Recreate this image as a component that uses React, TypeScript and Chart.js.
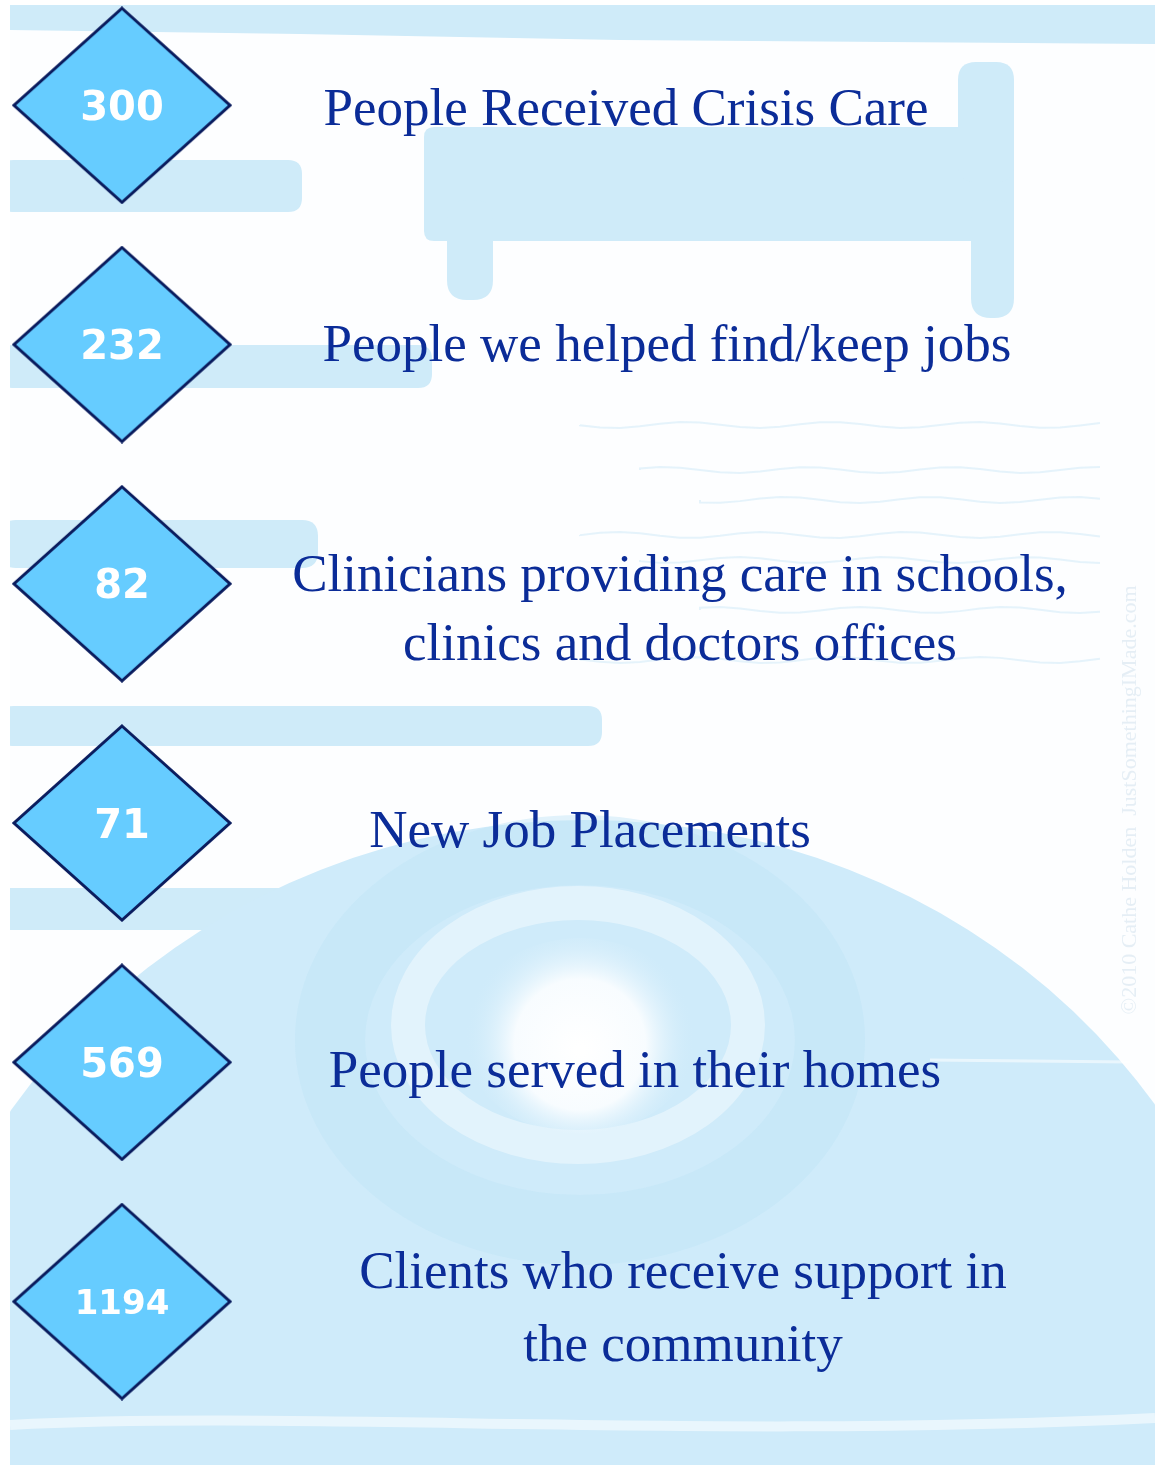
import { useEffect, useRef } from 'react';
import { Chart, registerables } from 'chart.js';

Chart.register(...registerables);

// ---- data ----
const values: number[] = [300, 232, 82, 71, 569, 1194];
const categories: string[][] = [
  ['People Received Crisis Care'],
  ['People we helped find/keep jobs'],
  ['Clinicians providing care in schools,', 'clinics and doctors offices'],
  ['New Job Placements'],
  ['People served in their homes'],
  ['Clients who receive support in', 'the community'],
];
const rowIndex: number[] = [0, 1, 2, 3, 4, 5];
const watermark = '\u00A92010 Cathe Holden  JustSomethingIMade.com';

// ---- layout / style (kept apart from the data) ----
const W = 1155;
const H = 1469;
const BADGE_X = 122;
const LABEL_CX = [626, 667, 680, 590, 635, 683];
const LABEL_DY = [[20], [16], [7, 76], [24], [25], [-14, 59]];
const TEXT_COLOR = '#0b2c98';
const BADGE_FILL = '#66ccff';
const BADGE_STROKE = '#0a1c5e';
const BG_BLUE = '#cfebf9';

function makeDiamond(): HTMLCanvasElement {
  const c = document.createElement('canvas');
  const w = 220;
  const h = 198;
  c.width = w;
  c.height = h;
  const g = c.getContext('2d')!;
  g.beginPath();
  g.moveTo(w / 2, 2);
  g.lineTo(w - 2, h / 2);
  g.lineTo(w / 2, h - 2);
  g.lineTo(2, h / 2);
  g.closePath();
  g.fillStyle = BADGE_FILL;
  g.fill();
  g.lineWidth = 3;
  g.lineJoin = 'miter';
  g.strokeStyle = BADGE_STROKE;
  g.stroke();
  return c;
}

function roundRect(ctx: CanvasRenderingContext2D, x: number, y: number, w: number, h: number, r: number) {
  ctx.beginPath();
  ctx.moveTo(x + r, y);
  ctx.lineTo(x + w - r, y);
  ctx.quadraticCurveTo(x + w, y, x + w, y + r);
  ctx.lineTo(x + w, y + h - r);
  ctx.quadraticCurveTo(x + w, y + h, x + w - r, y + h);
  ctx.lineTo(x + r, y + h);
  ctx.quadraticCurveTo(x, y + h, x, y + h - r);
  ctx.lineTo(x, y + r);
  ctx.quadraticCurveTo(x, y, x + r, y);
  ctx.closePath();
  ctx.fill();
}

function drawBackground(ctx: CanvasRenderingContext2D) {
  ctx.save();
  ctx.fillStyle = '#ffffff';
  ctx.fillRect(0, 0, W, H);
  ctx.beginPath();
  ctx.rect(10, 5, W - 10, 1460);
  ctx.clip();
  ctx.fillStyle = '#fdfeff';
  ctx.fillRect(10, 5, W - 10, 1460);

  ctx.fillStyle = BG_BLUE;
  // top band
  ctx.beginPath();
  ctx.moveTo(10, 5);
  ctx.lineTo(W, 5);
  ctx.lineTo(W, 44);
  ctx.lineTo(620, 40);
  ctx.lineTo(300, 34);
  ctx.lineTo(10, 30);
  ctx.closePath();
  ctx.fill();
  // left strips
  roundRect(ctx, 0, 160, 302, 52, 14);
  roundRect(ctx, 0, 345, 432, 43, 14);
  roundRect(ctx, 0, 520, 318, 48, 16);
  roundRect(ctx, 0, 706, 602, 40, 14);
  roundRect(ctx, 0, 888, 320, 42, 10);
  // hammer-like block
  roundRect(ctx, 424, 127, 590, 114, 10);
  roundRect(ctx, 958, 62, 56, 120, 18);
  roundRect(ctx, 447, 200, 46, 100, 20);
  roundRect(ctx, 971, 200, 43, 118, 20);

  // faint wavy lines in the upper white area
  ctx.strokeStyle = 'rgba(200,230,247,0.45)';
  ctx.lineWidth = 2;
  const waves = [425, 470, 500, 535, 560, 610, 660];
  waves.forEach((wy, k) => {
    ctx.beginPath();
    const x0 = 580 + (k % 3) * 60;
    ctx.moveTo(x0, wy);
    for (let x = x0; x < 1120; x += 20) {
      ctx.lineTo(x, wy + Math.sin(x / 23 + k) * 3);
    }
    ctx.stroke();
  });

  // big disc
  ctx.fillStyle = '#cfebfa';
  ctx.beginPath();
  ctx.ellipse(585, 1472, 690, 652, 0, 0, Math.PI * 2);
  ctx.fill();
  // bottom band
  ctx.fillRect(10, 1380, W, 90);

  // slightly darker band around the ring
  ctx.strokeStyle = 'rgba(190,228,247,0.45)';
  ctx.lineWidth = 70;
  ctx.beginPath();
  ctx.ellipse(580, 1040, 250, 190, 0, 0, Math.PI * 2);
  ctx.stroke();
  // light speckled ring
  ctx.strokeStyle = 'rgba(255,255,255,0.4)';
  ctx.lineWidth = 34;
  ctx.beginPath();
  ctx.ellipse(578, 1025, 170, 122, 0, 0, Math.PI * 2);
  ctx.stroke();
  // hole
  const grad = ctx.createRadialGradient(580, 1050, 5, 580, 1040, 115);
  grad.addColorStop(0, 'rgba(255,255,255,1)');
  grad.addColorStop(0.55, 'rgba(250,253,255,0.95)');
  grad.addColorStop(1, 'rgba(207,235,250,0)');
  ctx.fillStyle = grad;
  ctx.beginPath();
  ctx.ellipse(580, 1036, 118, 98, 0, 0, Math.PI * 2);
  ctx.fill();

  // whitish streaks near the bottom
  ctx.strokeStyle = 'rgba(255,255,255,0.55)';
  ctx.lineWidth = 10;
  ctx.beginPath();
  ctx.moveTo(10, 1425);
  ctx.bezierCurveTo(300, 1410, 700, 1440, 1155, 1418);
  ctx.stroke();
  ctx.lineWidth = 3;
  ctx.beginPath();
  ctx.moveTo(930, 1060);
  ctx.lineTo(1130, 1062);
  ctx.stroke();

  // watermark
  ctx.save();
  ctx.translate(1130, 800);
  ctx.rotate(-Math.PI / 2);
  ctx.font = '22px "Liberation Serif"';
  ctx.fillStyle = 'rgba(200,220,232,0.45)';
  ctx.textAlign = 'center';
  ctx.textBaseline = 'middle';
  ctx.fillText(watermark, 0, 0);
  ctx.restore();

  ctx.restore();
}

const infographicPlugin = {
  id: 'infographic',
  beforeDraw(chart: any) {
    drawBackground(chart.ctx);
  },
  afterDatasetsDraw(chart: any) {
    const ctx: CanvasRenderingContext2D = chart.ctx;
    const meta = chart.getDatasetMeta(0);
    const xs = chart.scales.x;
    const ys = chart.scales.y;
    ctx.save();
    // numbers inside diamonds
    meta.data.forEach((el: any, i: number) => {
      const txt = String(values[i]);
      const size = txt.length > 3 ? 34 : 40;
      ctx.font = `bold ${size}px "DejaVu Sans"`;
      ctx.fillStyle = '#ffffff';
      ctx.textAlign = 'center';
      ctx.textBaseline = 'alphabetic';
      ctx.fillText(txt, el.x, el.y + size * 0.365);
    });
    // descriptions
    ctx.font = '53px "Liberation Serif"';
    ctx.fillStyle = TEXT_COLOR;
    ctx.textAlign = 'center';
    ctx.textBaseline = 'alphabetic';
    rowIndex.forEach((r) => {
      const cx = xs.getPixelForValue(LABEL_CX[r]);
      const cy = ys.getPixelForValue(r);
      categories[r].forEach((line, j) => {
        ctx.fillText(line, cx, cy + LABEL_DY[r][j]);
      });
    });
    ctx.restore();
  },
};

export default function App() {
  const ref = useRef<HTMLCanvasElement | null>(null);
  useEffect(() => {
    if (!ref.current) return;
    const diamond = makeDiamond();
    const chart = new Chart(ref.current, {
      type: 'scatter',
      data: {
        datasets: [
          {
            label: 'Outcomes',
            data: rowIndex.map((r) => ({ x: BADGE_X, y: r })),
            pointStyle: diamond as any,
            pointRadius: 100,
            pointHoverRadius: 100,
            clip: false as any,
          },
        ],
      },
      options: {
        animation: false,
        responsive: false,
        maintainAspectRatio: false,
        devicePixelRatio: 1,
        layout: { padding: 0, autoPadding: false },
        events: [],
        plugins: {
          legend: { display: false },
          tooltip: { enabled: false },
          title: { display: false },
        },
        scales: {
          x: { type: 'linear', min: 0, max: W, display: false },
          y: { type: 'linear', min: -0.44, max: 5.7, reverse: true, display: false },
        },
      },
      plugins: [infographicPlugin],
    });
    return () => chart.destroy();
  }, []);
  return (
    <div style={{ position: 'absolute', left: 0, top: 0, width: W, height: H }}>
      <canvas ref={ref} width={W} height={H} style={{ display: 'block' }} />
    </div>
  );
}
